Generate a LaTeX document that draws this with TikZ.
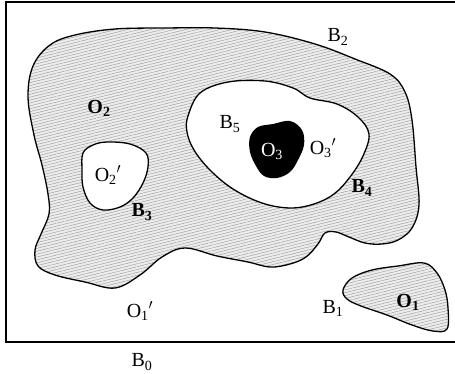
\documentclass[tikz,border=0pt]{standalone}
\usepackage{fontspec}
\setmainfont{Liberation Serif}
\usetikzlibrary{patterns.meta}
\definecolor{hatchgray}{RGB}{140, 140, 140}
\definecolor{shadegray}{RGB}{236, 236, 236}
\tikzset{
  region/.style={line width=1.3pt, line join=round},
  hatched/.style={region, preaction={fill=shadegray},
    pattern={Lines[angle=14, distance=2.8pt, line width=0.35pt]}, pattern color=hatchgray},
  hole/.style={region, fill=white},
  lbl/.style={font=\fontsize{20}{22}\selectfont, inner sep=0pt},
  blbl/.style={lbl, font=\fontsize{20}{22}\selectfont\bfseries}
}

\begin{document}
\begin{tikzpicture}[x=1pt, y=-1pt]
    \useasboundingbox (0,0) rectangle (455,373);
    % frame
    \draw[line width=1.4pt] (455,2) -- (6,2) -- (6,342) -- (455,342);
    % outer region O2
    \draw[hatched] plot[smooth cycle, tension=0.6] coordinates {
      (28,97) (33,66) (50,45) (75,35) (115,29) (165,28) (215,28) (265,32)
      (315,44) (355,59) (390,74) (405,92) (412,120) (416,167) (419,205)
      (412,228) (398,240) (382,244) (365,243) (349,237) (336,232) (325,233)
      (318,244) (306,257) (290,264) (270,267) (248,262) (217,256) (185,248)
      (162,257) (140,275) (115,288) (85,282) (55,275) (38,266) (35,250)
      (41,234) (49,214) (48,194) (42,165) (34,135)
    };
    % hole O3'
    \draw[hole] plot[smooth cycle, tension=0.6] coordinates {
      (188,116) (200,93) (228,82) (265,81) (293,88) (310,98) (337,104)
      (358,117) (369,134) (363,156) (350,177) (334,194) (314,204) (290,208)
      (262,203) (233,189) (210,170) (194,150) (187,132)
    };
    % hole O2'
    \draw[hole] plot[smooth cycle, tension=0.6] coordinates {
      (83,153) (93,145) (107,142) (130,144) (146,153) (148,167) (143,183)
      (133,198) (120,207) (103,210) (90,203) (83,187) (82,170)
    };
    % core O3
    \fill plot[smooth cycle, tension=0.6] coordinates {
      (250,137) (258,127) (273,124) (290,121) (302,130) (304,145) (298,160)
      (290,172) (277,178) (264,176) (256,166) (250,152)
    };
    % small region O1
    \draw[hatched] plot[smooth cycle, tension=0.6] coordinates {
      (343,290) (352,278) (372,270) (398,266) (424,263) (437,273) (445,290)
      (448,308) (447,329) (433,331) (412,325) (387,315) (361,306) (347,299)
    };
    % labels
    \node[lbl] (b2) at (338,37) {B\textsubscript{2}};
    \node[blbl] (o2) at (99,108) {O\textsubscript{2}};
    \node[lbl] (b5) at (230,124) {B\textsubscript{5}};
    \node[lbl, text=white] (o3) at (272,151) {O\textsubscript{3}};
    \node[lbl] (o3p) at (323,148) {O\textsubscript{3}$'$};
    \node[lbl] (o2p) at (108,175) {O\textsubscript{2}$'$};
    \node[blbl] (b3) at (142,212) {B\textsubscript{3}};
    \node[blbl] (b4) at (362,188) {B\textsubscript{4}};
    \node[lbl] (o1p) at (140,311) {O\textsubscript{1}$'$};
    \node[lbl] (b1) at (333,308) {B\textsubscript{1}};
    \node[blbl] (o1) at (408,302) {O\textsubscript{1}};
    \node[lbl] (b0) at (142,362) {B\textsubscript{0}};
\end{tikzpicture}
\end{document}
